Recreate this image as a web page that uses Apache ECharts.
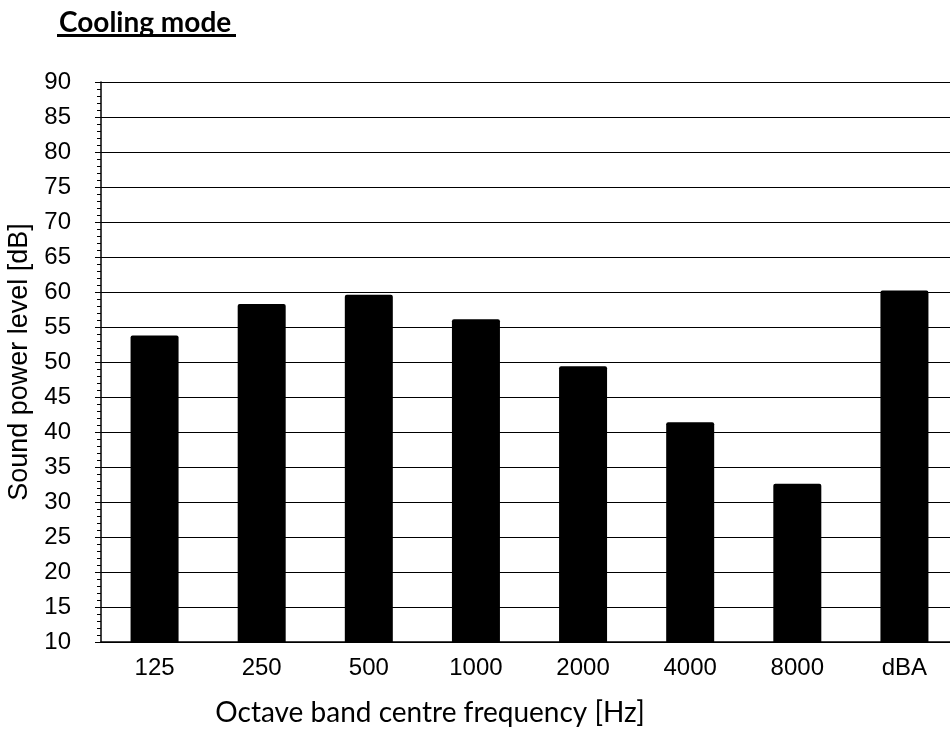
<!DOCTYPE html>
<html>
<head>
<meta charset="utf-8">
<script src="https://cdn.jsdelivr.net/npm/echarts@6/dist/echarts.min.js"></script>
<style>
  html, body { margin: 0; padding: 0; background: #fff; }
  #chart { width: 950px; height: 736px; }
</style>
</head>
<body>
<div id="chart"></div>
<script>
// octave bands and measured levels
const bands = ['125', '250', '500', '1000', '2000', '4000', '8000', 'dBA']
const levels = [53.8, 58.3, 59.6, 56.1, 49.4, 41.4, 32.6, 60.2]

const chart = echarts.init(document.getElementById('chart'))

const option = {
  animation: false,
  title: {
    text: 'Cooling mode',
    left: 54,
    top: 4,
    textStyle: {
      fontFamily: 'Lato',
      fontWeight: 'bold',
      fontSize: 28,
      color: '#000',
    },
  },
  graphic: [
    {
      // underline under the title
      type: 'rect',
      shape: { x: 57, y: 34, width: 179, height: 3 },
      style: { fill: '#000' },
    },
  ],
  grid: {
    left: 101,
    width: 857,
    top: 82,
    bottom: 94,
    outerBoundsMode: 'none',
  },
  xAxis: {
    type: 'category',
    data: bands,
    name: 'Octave band centre frequency [Hz]',
    nameLocation: 'middle',
    nameGap: 57,
    nameTextStyle: {
      fontFamily: 'Lato',
      fontSize: 28,
      color: '#000',
      padding: [0, 199, 0, 0],
    },
    axisLine: { lineStyle: { color: '#000', width: 1.5 } },
    axisTick: { show: false },
    axisLabel: {
      fontFamily: 'Liberation Sans',
      fontSize: 24,
      color: '#000',
      margin: 14,
    },
  },
  yAxis: {
    type: 'value',
    min: 10,
    max: 90,
    interval: 5,
    name: 'Sound power level [dB]',
    nameLocation: 'middle',
    nameGap: 67,
    nameTextStyle: {
      fontFamily: 'Liberation Sans',
      fontSize: 27,
      color: '#000',
    },
    axisLine: { show: true, lineStyle: { color: '#000', width: 1.5 } },
    axisTick: { show: true, length: 6, lineStyle: { color: '#000' } },
    minorTick: { show: true, splitNumber: 5, length: 4, lineStyle: { color: '#000' } },
    splitLine: { show: true, lineStyle: { color: '#000', width: 1 } },
    axisLabel: {
      fontFamily: 'Liberation Sans',
      fontSize: 24,
      color: '#000',
      margin: 30,
    },
  },
  series: [
    {
      type: 'bar',
      data: levels,
      barWidth: 48,
      itemStyle: {
        color: '#000',
        borderRadius: [2, 2, 0, 0],
      },
    },
  ],
}

chart.setOption(option)
</script>
</body>
</html>
